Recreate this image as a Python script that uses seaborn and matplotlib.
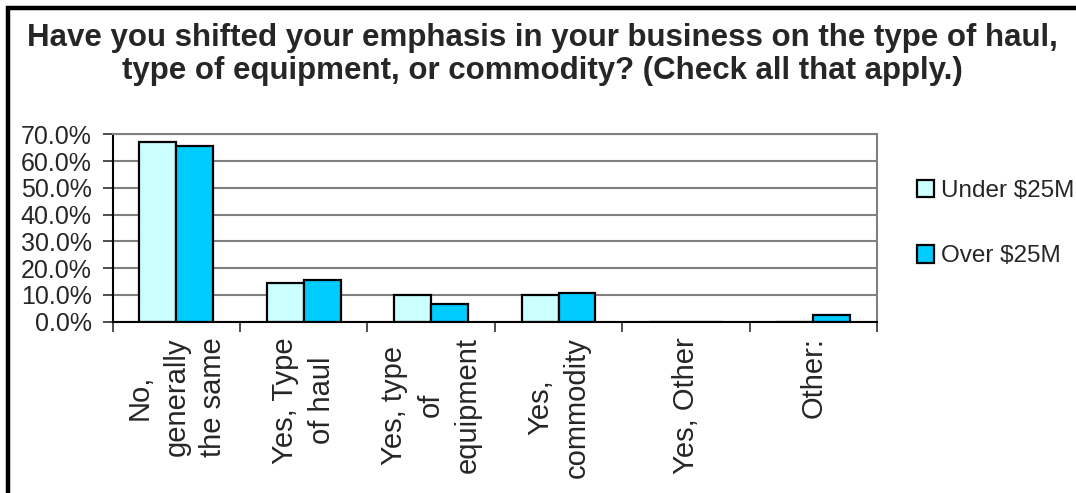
import matplotlib
matplotlib.use("Agg")
import matplotlib.pyplot as plt
import matplotlib.patches as mpatches
import numpy as np
import pandas as pd
import seaborn as sns

# data
categories = ["No,\ngenerally\nthe same", "Yes, Type\nof haul", "Yes, type\nof\nequipment",
              "Yes,\ncommodity", "Yes, Other", "Other:"]
under_25m = [67.0, 14.4, 9.9, 10.0, 0.0, 0.0]
over_25m = [65.6, 15.6, 6.7, 10.7, 0.0, 2.6]
series = ["Under $25M", "Over $25M"]
colors = ["#CCFFFF", "#00CCFF"]

df = pd.DataFrame({
    "category": categories * 2,
    "group": [series[0]] * len(categories) + [series[1]] * len(categories),
    "value": under_25m + over_25m,
})

sns.set_theme(style="white")
plt.rcParams["font.family"] = ["Liberation Sans", "DejaVu Sans"]

W, H = 1076, 493
fig = plt.figure(figsize=(W / 100, H / 100), dpi=100)
ax = fig.add_axes([112.7 / W, 1 - 321.7 / H, (877 - 112.7) / W, (321.7 - 134.3) / H])

sns.barplot(data=df, x="category", y="value", hue="group", order=categories,
            hue_order=series, palette=colors, width=0.58, edgecolor="black",
            linewidth=1.6, saturation=1, ax=ax, legend=False)

ax.set_ylim(0, 70)
ax.set_xlim(-0.5, len(categories) - 0.5)
ax.set_yticks(np.arange(0, 71, 10))
ax.set_yticklabels([f"{v:.1f}%" for v in np.arange(0, 71, 10)], fontsize=18)
ax.yaxis.grid(True, color="#808080", linewidth=1.5)
ax.set_axisbelow(True)

# tick marks between categories, labels at category centres
ax.set_xticks(np.arange(-0.5, len(categories), 1.0))
ax.set_xticklabels([])
ax.set_xticks(np.arange(len(categories)), minor=True)
ax.set_xticklabels(categories, minor=True, rotation=90, fontsize=21,
                   va="top", ha="center", multialignment="center",
                   linespacing=1.4)
ax.tick_params(axis="x", which="minor", length=0, pad=11)
ax.tick_params(axis="x", which="major", direction="out", length=7, width=1.3,
               color="#404040", bottom=True)
ax.tick_params(axis="y", direction="out", length=7, width=1.3, color="#404040",
               left=True, pad=8)
ax.set_xlabel("")
ax.set_ylabel("")

for side in ["left", "bottom"]:
    ax.spines[side].set_color("black")
    ax.spines[side].set_linewidth(1.5)
for side in ["top", "right"]:
    ax.spines[side].set_color("#808080")
    ax.spines[side].set_linewidth(1.5)

handles = [mpatches.Patch(facecolor=c, edgecolor="black", linewidth=1.6, label=s)
           for c, s in zip(colors, series)]
fig.legend(handles=handles, loc="upper left", bbox_to_anchor=(907 / W, 1 - 170 / H),
           frameon=False, fontsize=17.5, handlelength=0.7, handleheight=0.7,
           handletextpad=0.3, labelspacing=1.8, borderaxespad=0)

fig.text(542 / W, 1 - 23 / H,
         "Have you shifted your emphasis in your business on the type of haul,\n"
         "type of equipment, or commodity? (Check all that apply.)",
         ha="center", va="top", fontsize=22.5, fontweight="bold", linespacing=1.12)

# outer chart frame (right and bottom edges lie outside the picture)
fig.patches.append(mpatches.Rectangle((7.5 / W, -0.1), 1.2, 1 - 7.5 / H + 0.1,
                                      transform=fig.transFigure, fill=False,
                                      edgecolor="black", linewidth=3.2))

fig.savefig("out.png", dpi=100)
